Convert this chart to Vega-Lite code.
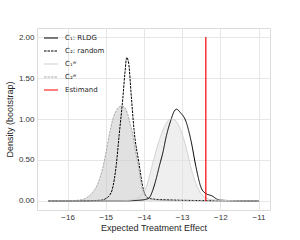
{
  "$schema": "https://vega.github.io/schema/vega-lite/v6.json",
  "width": 233,
  "height": 182,
  "autosize": {"type": "none"},
  "padding": {"left": 37, "top": 28, "right": 30, "bottom": 30},
  "background": "white",
  "config": {
    "font": "Liberation Sans",
    "view": {"stroke": "#dcdcdc", "strokeWidth": 1},
    "axis": {
      "domain": false,
      "ticks": false,
      "grid": true,
      "gridColor": "#e6e6e6",
      "gridWidth": 1,
      "labelFont": "Liberation Sans",
      "labelFontSize": 8,
      "labelColor": "#333333",
      "titleFont": "Liberation Sans",
      "titleFontSize": 9,
      "titleFontWeight": "normal",
      "titleColor": "#262626"
    },
    "legend": {
      "labelFont": "DejaVu Sans",
      "labelFontSize": 7,
      "labelColor": "#262626"
    }
  },
  "data": {
    "values": [
      {"series": "C₂: random", "x": -16.5, "y": 0},
      {"series": "C₂: random", "x": -15.5, "y": 0.003},
      {"series": "C₂: random", "x": -15.1, "y": 0.01},
      {"series": "C₂: random", "x": -15.0, "y": 0.03},
      {"series": "C₂: random", "x": -14.9, "y": 0.07},
      {"series": "C₂: random", "x": -14.83, "y": 0.14},
      {"series": "C₂: random", "x": -14.72, "y": 0.46},
      {"series": "C₂: random", "x": -14.65, "y": 0.8},
      {"series": "C₂: random", "x": -14.55, "y": 1.27},
      {"series": "C₂: random", "x": -14.5, "y": 1.55},
      {"series": "C₂: random", "x": -14.45, "y": 1.75},
      {"series": "C₂: random", "x": -14.4, "y": 1.68},
      {"series": "C₂: random", "x": -14.33, "y": 1.27},
      {"series": "C₂: random", "x": -14.26, "y": 0.87},
      {"series": "C₂: random", "x": -14.13, "y": 0.46},
      {"series": "C₂: random", "x": -14.01, "y": 0.13},
      {"series": "C₂: random", "x": -13.9, "y": 0.04},
      {"series": "C₂: random", "x": -13.7, "y": 0.02},
      {"series": "C₂: random", "x": -13.3, "y": 0.012},
      {"series": "C₂: random", "x": -12.5, "y": 0.005},
      {"series": "C₂: random", "x": -11.0, "y": 0},

      {"series": "C₂ʷ", "x": -16.5, "y": 0},
      {"series": "C₂ʷ", "x": -16.0, "y": 0.003},
      {"series": "C₂ʷ", "x": -15.7, "y": 0.01},
      {"series": "C₂ʷ", "x": -15.5, "y": 0.04},
      {"series": "C₂ʷ", "x": -15.35, "y": 0.1},
      {"series": "C₂ʷ", "x": -15.2, "y": 0.22},
      {"series": "C₂ʷ", "x": -15.07, "y": 0.42},
      {"series": "C₂ʷ", "x": -14.95, "y": 0.7},
      {"series": "C₂ʷ", "x": -14.88, "y": 0.87},
      {"series": "C₂ʷ", "x": -14.8, "y": 1.02},
      {"series": "C₂ʷ", "x": -14.7, "y": 1.12},
      {"series": "C₂ʷ", "x": -14.6, "y": 1.16},
      {"series": "C₂ʷ", "x": -14.5, "y": 1.14},
      {"series": "C₂ʷ", "x": -14.42, "y": 1.05},
      {"series": "C₂ʷ", "x": -14.35, "y": 0.92},
      {"series": "C₂ʷ", "x": -14.31, "y": 0.85},
      {"series": "C₂ʷ", "x": -14.22, "y": 0.6},
      {"series": "C₂ʷ", "x": -14.16, "y": 0.46},
      {"series": "C₂ʷ", "x": -14.03, "y": 0.13},
      {"series": "C₂ʷ", "x": -13.9, "y": 0.04},
      {"series": "C₂ʷ", "x": -13.7, "y": 0.015},
      {"series": "C₂ʷ", "x": -13.0, "y": 0.005},
      {"series": "C₂ʷ", "x": -11.0, "y": 0},

      {"series": "C₁: RLDG", "x": -16.5, "y": 0},
      {"series": "C₁: RLDG", "x": -14.5, "y": 0.002},
      {"series": "C₁: RLDG", "x": -14.1, "y": 0.01},
      {"series": "C₁: RLDG", "x": -13.95, "y": 0.02},
      {"series": "C₁: RLDG", "x": -13.86, "y": 0.04},
      {"series": "C₁: RLDG", "x": -13.77, "y": 0.13},
      {"series": "C₁: RLDG", "x": -13.68, "y": 0.27},
      {"series": "C₁: RLDG", "x": -13.6, "y": 0.42},
      {"series": "C₁: RLDG", "x": -13.5, "y": 0.6},
      {"series": "C₁: RLDG", "x": -13.42, "y": 0.78},
      {"series": "C₁: RLDG", "x": -13.3, "y": 0.98},
      {"series": "C₁: RLDG", "x": -13.2, "y": 1.1},
      {"series": "C₁: RLDG", "x": -13.15, "y": 1.12},
      {"series": "C₁: RLDG", "x": -13.05, "y": 1.08},
      {"series": "C₁: RLDG", "x": -12.9, "y": 0.97},
      {"series": "C₁: RLDG", "x": -12.77, "y": 0.74},
      {"series": "C₁: RLDG", "x": -12.64, "y": 0.42},
      {"series": "C₁: RLDG", "x": -12.51, "y": 0.17},
      {"series": "C₁: RLDG", "x": -12.38, "y": 0.09},
      {"series": "C₁: RLDG", "x": -12.3, "y": 0.075},
      {"series": "C₁: RLDG", "x": -12.21, "y": 0.06},
      {"series": "C₁: RLDG", "x": -12.1, "y": 0.025},
      {"series": "C₁: RLDG", "x": -12.0, "y": 0.01},
      {"series": "C₁: RLDG", "x": -11.5, "y": 0.003},
      {"series": "C₁: RLDG", "x": -11.0, "y": 0},

      {"series": "C₁ʷ", "x": -16.5, "y": 0},
      {"series": "C₁ʷ", "x": -14.6, "y": 0.003},
      {"series": "C₁ʷ", "x": -14.3, "y": 0.015},
      {"series": "C₁ʷ", "x": -14.12, "y": 0.05},
      {"series": "C₁ʷ", "x": -13.94, "y": 0.17},
      {"series": "C₁ʷ", "x": -13.77, "y": 0.46},
      {"series": "C₁ʷ", "x": -13.6, "y": 0.74},
      {"series": "C₁ʷ", "x": -13.45, "y": 0.92},
      {"series": "C₁ʷ", "x": -13.3, "y": 1.0},
      {"series": "C₁ʷ", "x": -13.2, "y": 0.99},
      {"series": "C₁ʷ", "x": -13.05, "y": 0.88},
      {"series": "C₁ʷ", "x": -12.9, "y": 0.66},
      {"series": "C₁ʷ", "x": -12.73, "y": 0.34},
      {"series": "C₁ʷ", "x": -12.56, "y": 0.13},
      {"series": "C₁ʷ", "x": -12.38, "y": 0.04},
      {"series": "C₁ʷ", "x": -12.2, "y": 0.015},
      {"series": "C₁ʷ", "x": -11.8, "y": 0.005},
      {"series": "C₁ʷ", "x": -11.0, "y": 0},

      {"series": "Estimand", "x": -12.38, "y": 0, "y2": 2}
    ]
  },
  "layer": [
    {
      "transform": [{"filter": {"field": "series", "oneOf": ["C₁ʷ", "C₂ʷ"]}}],
      "mark": {"type": "area", "interpolate": "monotone", "fillOpacity": 0.55},
      "encoding": {
        "x": {"field": "x", "type": "quantitative", "scale": {"domain": [-16.8, -10.7], "nice": false, "zero": false},
              "axis": {"values": [-16, -15, -14, -13, -12, -11], "title": "Expected Treatment Effect", "labelPadding": 3, "titlePadding": 2}},
        "y": {"field": "y", "type": "quantitative", "stack": null, "scale": {"domain": [-0.11, 2.11], "nice": false, "zero": false},
              "axis": {"values": [0, 0.25, 0.5, 0.75, 1, 1.25, 1.5, 1.75, 2], "format": ".2f", "title": "Density (bootstrap)", "labelPadding": 3, "titlePadding": 4}},
        "y2": {"datum": 0},
        "fill": {"field": "series", "type": "nominal", "scale": {"domain": ["C₁ʷ", "C₂ʷ"], "range": ["#e2e2e2", "#c8c8c8"]}, "legend": null}
      }
    },
    {
      "transform": [{"filter": {"field": "series", "oneOf": ["C₁: RLDG", "C₂: random", "C₁ʷ", "C₂ʷ"]}}],
      "mark": {"type": "line", "interpolate": "monotone", "strokeWidth": 1},
      "encoding": {
        "x": {"field": "x", "type": "quantitative"},
        "y": {"field": "y", "type": "quantitative"},
        "stroke": {"field": "series", "type": "nominal",
          "scale": {"domain": ["C₁: RLDG", "C₂: random", "C₁ʷ", "C₂ʷ", "Estimand"], "range": ["#000000", "#000000", "#d0d0d0", "#aaaaaa", "#ff0000"]},
          "legend": {"title": null, "orient": "none", "legendX": 9, "legendY": 5, "symbolType": "M-1.75,0H1.75", "symbolSize": 64, "symbolStrokeWidth": 1.1, "rowPadding": 5, "labelOffset": 9}},
        "strokeDash": {"field": "series", "type": "nominal",
          "scale": {"domain": ["C₁: RLDG", "C₂: random", "C₁ʷ", "C₂ʷ", "Estimand"], "range": [[1, 0], [2.5, 1], [1, 0], [2.5, 1], [1, 0]]},
          "legend": {"title": null, "orient": "none", "legendX": 9, "legendY": 5, "symbolType": "M-1.75,0H1.75", "symbolSize": 64, "symbolStrokeWidth": 1.1, "rowPadding": 5, "labelOffset": 9}},
        "order": {"field": "x", "type": "quantitative"}
      }
    },
    {
      "transform": [{"filter": {"field": "series", "equal": "Estimand"}}],
      "mark": {"type": "rule", "strokeWidth": 1.2},
      "encoding": {
        "x": {"field": "x", "type": "quantitative"},
        "y": {"field": "y", "type": "quantitative"},
        "y2": {"field": "y2"},
        "stroke": {"field": "series", "type": "nominal"},
        "strokeDash": {"field": "series", "type": "nominal"}
      }
    }
  ]
}
